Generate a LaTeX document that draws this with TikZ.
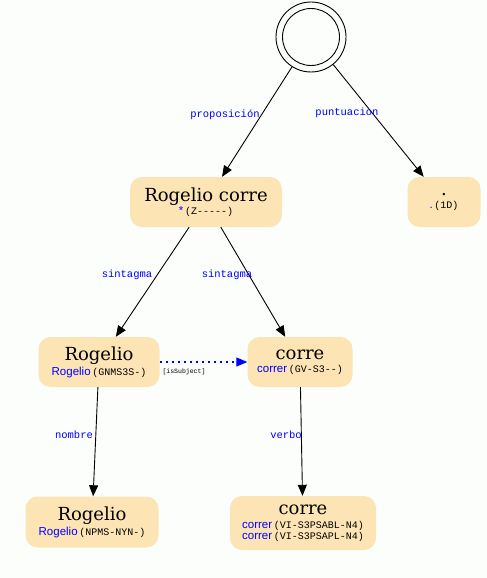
\documentclass[tikz,border=0pt]{standalone}
\usepackage{fontspec}
\setmainfont{DejaVu Serif}
\newfontfamily\monof{Liberation Mono}
\newfontfamily\sansf{Liberation Sans}
\usetikzlibrary{arrows.meta}
\definecolor{boxfill}{HTML}{FCE4B5}
\definecolor{lblue}{HTML}{0000FF}
\definecolor{bg}{HTML}{FCFEFC}
\newcommand\mainln[1]{{\fontsize{18}{18}\selectfont #1}}
\newcommand\tagln[2]{{\fontsize{10}{11}\selectfont{\fontsize{11.5}{11}\sansf\textcolor{lblue}{#1}}\,\monof #2}}
\begin{document}
\begin{tikzpicture}[x=1pt,y=-1pt,
  box/.style={fill=boxfill, rounded corners=12pt, inner sep=0pt, align=center,
              font=\fontsize{10}{12}\selectfont},
  edge/.style={-{Triangle[length=11pt,width=9pt]}, line width=0.9pt, black},
  subj/.style={-{Triangle[length=11pt,width=9pt]}, line width=1.1pt, lblue,
               dash pattern=on 2pt off 4pt},
  elabel/.style={text=lblue, font=\monof\fontsize{10.5}{11}\selectfont, inner sep=0pt},
  small/.style={font=\monof\fontsize{6.5}{7}\selectfont, inner sep=0pt}]
\fill[bg] (0,0) rectangle (487,578);
\useasboundingbox (0,0) rectangle (487,578);

\node[circle, draw, line width=0.9pt, minimum size=70pt, inner sep=0pt] (root) at (311,37) {};
\node[circle, draw, line width=0.9pt, minimum size=57pt, inner sep=0pt] (rootin) at (311,37) {};

\node[box, minimum width=152pt, minimum height=50pt] (rc) at (206,202)
  {\mainln{Rogelio corre}\\[1.5pt]\tagln{*}{(Z-----)}};
\node[box, minimum width=73pt, minimum height=50pt] (dot) at (444,202)
  {\mainln{.}\\[1.5pt]\tagln{.}{(1D)}};
\node[box, minimum width=121pt, minimum height=50pt] (rog) at (99,362)
  {\mainln{Rogelio}\\[1.5pt]\tagln{Rogelio}{(GNMS3S-)}};
\node[box, minimum width=105pt, minimum height=50pt] (cor) at (300,362)
  {\mainln{corre}\\[1.5pt]\tagln{correr}{(GV-S3--)}};
\node[box, minimum width=133pt, minimum height=51pt] (rogb) at (92,522)
  {\mainln{Rogelio}\\[1.5pt]\tagln{Rogelio}{(NPMS-NYN-)}};
\node[box, minimum width=146pt, minimum height=54pt] (corb) at (303,523)
  {\mainln{corre}\\[1.5pt]\tagln{correr}{(VI-S3PSABL-N4)}\\[-1pt]\tagln{correr}{(VI-S3PSAPL-N4)}};

\draw[edge] (root) -- (rc);
\draw[edge] (root) -- (dot);
\draw[edge] (rc) -- (rog);
\draw[edge] (rc) -- (cor);
\draw[edge] (rog) -- (rogb);
\draw[edge] (cor) -- (corb);
\draw[subj] (rog) -- (cor);

\node[elabel] (l1) at (225,115) {proposición};
\node[elabel] (l2) at (347,113) {puntuacion};
\node[elabel] (l3) at (127,275) {sintagma};
\node[elabel] (l4) at (227,275) {sintagma};
\node[elabel] (l5) at (74,435) {nombre};
\node[elabel] (l6) at (286,435) {verbo};
\node[small] (l7) at (184,372) {[isSubject]};
\end{tikzpicture}
\end{document}
